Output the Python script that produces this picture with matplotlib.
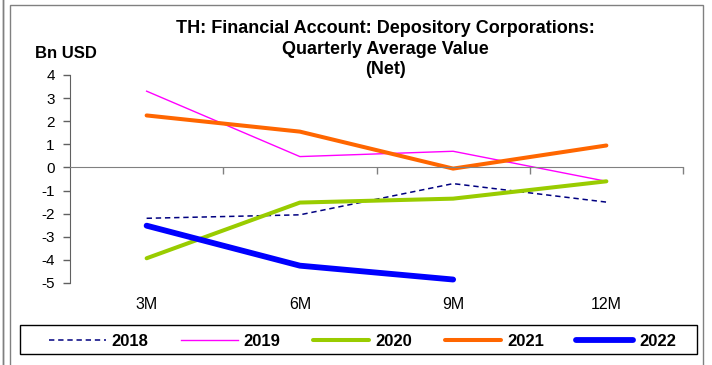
import matplotlib.pyplot as plt
from matplotlib.patches import Rectangle

plt.rcParams['font.family'] = ['Liberation Sans', 'DejaVu Sans']
plt.rcParams['axes.unicode_minus'] = False

quarters = ['3M', '6M', '9M', '12M']
v2018 = [-2.2, -2.05, -0.7, -1.5]
v2019 = [3.3, 0.47, 0.7, -0.6]
v2020 = [-3.93, -1.52, -1.35, -0.6]
v2021 = [2.25, 1.55, -0.05, 0.95]
v2022 = [-2.52, -4.25, -4.85]

W, H = 712, 365
fig = plt.figure(figsize=(W / 100, H / 100), dpi=100)

# outer frames
fig.patches.append(Rectangle((3 / W, -0.1), 0.0, 1.2, transform=fig.transFigure,
                             fill=False, ec='#808080', lw=1))
fig.patches.append(Rectangle((10 / W, -0.05), 693 / W, 1 - 5 / H + 0.05, transform=fig.transFigure,
                             fill=False, ec='#808080', lw=1))

ax = fig.add_axes([70 / W, (H - 283) / H, 613 / W, 208 / H])
x = range(len(quarters))

ax.plot(x, v2018, color='#000080', lw=1.1, ls=(0, (3.5, 2.5)), label='2018')
ax.plot(x, v2019, color='#ff00ff', lw=1.0, label='2019')
ax.plot(x, v2020, color='#99cc00', lw=2.9, label='2020', solid_capstyle='round')
ax.plot(x, v2021, color='#ff6600', lw=2.9, label='2021', solid_capstyle='round')
ax.plot(range(len(v2022)), v2022, color='#0000ff', lw=4.2, label='2022', solid_capstyle='round')

ax.set_xlim(-0.5, 3.5)
ax.set_ylim(-5, 4)
ax.set_yticks(range(-5, 5))
ax.tick_params(axis='y', direction='out', length=5, width=1, labelsize=11, pad=6, color='#606060')

for s in ['top', 'right']:
    ax.spines[s].set_visible(False)
ax.spines['left'].set_color('#606060')
ax.spines['bottom'].set_position(('data', 0))
ax.spines['bottom'].set_color('#808080')
ax.set_xticks([0.5, 1.5, 2.5, 3.5])
ax.tick_params(axis='x', direction='out', length=5, width=1, color='#808080', labelbottom=False)

sec = ax.secondary_xaxis(0)
sec.set_xticks(list(x))
sec.set_xticklabels(quarters)
sec.tick_params(length=0, labelsize=11.5, pad=10)
sec.spines['bottom'].set_visible(False)

fig.text(385 / W, 1 - 49 / H, 'TH: Financial Account: Depository Corporations:\nQuarterly Average Value\n(Net)',
         ha='center', va='center', fontsize=13, fontweight='bold', linespacing=1.25)
fig.text(66 / W, 1 - 53 / H, 'Bn USD', ha='center', va='center', fontsize=12, fontweight='bold')

# legend frame drawn separately so the entries can sit inset from it
fig.patches.append(Rectangle((20 / W, 1 - 354 / H), 677 / W, 29 / H, transform=fig.transFigure,
                             fill=False, ec='black', lw=1))
leg = fig.legend(loc='lower left', bbox_to_anchor=(44 / W, 1 - 354 / H, 637 / W, 29 / H), mode='expand',
                 ncol=5, frameon=False, handlelength=3.4,
                 handletextpad=0.36, prop={'weight': 'bold', 'size': 12}, borderpad=0.3,
                 borderaxespad=0)

fig.savefig('out.png', dpi=100)
